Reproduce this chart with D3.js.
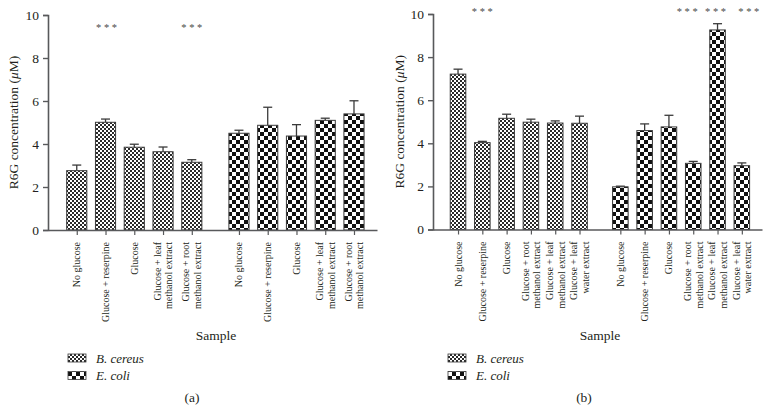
<!DOCTYPE html>
<html><head><meta charset="utf-8">
<script src="https://cdn.jsdelivr.net/npm/d3@7"></script>
<style>
html,body{margin:0;padding:0;background:#fff;}
text{font-family:"Liberation Serif","DejaVu Serif",serif;fill:#231f20;}
</style></head>
<body><svg id="chart" width="770" height="412"></svg>
<script>
// ---- data ----
const seriesNames = ["B. cereus", "E. coli"];
const yTicks = [0, 2, 4, 6, 8, 10];

const categoriesA = ["No glucose", "Glucose + reserpine", "Glucose", "Glucose + leaf\nmethanol extract", "Glucose + root\nmethanol extract"];
const bcereusA = [2.76, 5.01, 3.85, 3.64, 3.15];
const bcereusErrA = [0.26, 0.15, 0.14, 0.22, 0.12];
const ecoliA = [4.50, 4.87, 4.37, 5.10, 5.40];
const ecoliErrA = [0.14, 0.84, 0.53, 0.10, 0.61];
const bcereusSigA = [false, true, false, false, true];
const ecoliSigA = [false, false, false, false, false];

const categoriesB = ["No glucose", "Glucose + reserpine", "Glucose", "Glucose + root\nmethanol extract", "Glucose + leaf\nmethanol extract", "Glucose + leaf\nwater extract"];
const bcereusB = [7.21, 4.03, 5.16, 4.98, 4.94, 4.93];
const bcereusErrB = [0.23, 0.06, 0.19, 0.14, 0.10, 0.33];
const ecoliB = [1.98, 4.59, 4.76, 3.07, 9.26, 2.96];
const ecoliErrB = [0.03, 0.31, 0.54, 0.09, 0.29, 0.13];
const bcereusSigB = [false, true, false, false, false, false];
const ecoliSigB = [false, false, false, true, true, true];

const svg = d3.select("#chart");
const defs = svg.append("defs");

// patterns
function makePattern(id, cell, color) {
  const p = defs.append("pattern").attr("id", id).attr("patternUnits", "userSpaceOnUse")
    .attr("width", cell * 2).attr("height", cell * 2);
  p.append("rect").attr("width", cell * 2).attr("height", cell * 2).attr("fill", "#fff");
  p.append("rect").attr("width", cell).attr("height", cell).attr("fill", color);
  p.append("rect").attr("x", cell).attr("y", cell).attr("width", cell).attr("height", cell).attr("fill", color);
}
makePattern("patBC", 2, "#2a2a2a");
makePattern("patEC", 4, "#111");
const fills = ["url(#patBC)", "url(#patEC)"];

const axisColor = "#58595b";

function panel(cfg) {
  const g = svg.append("g");
  const n = cfg.categories.length;
  const gap = cfg.gap;
  const pos = (grp, i) => i + grp * (n + gap);
  const lastPos = pos(1, n - 1);
  const x = d3.scaleLinear().domain([-cfg.padL, lastPos + cfg.padR]).range([cfg.x0, cfg.x1]);
  const y = d3.scaleLinear().domain([0, 10]).range([cfg.yBottom, cfg.yTop]);

  const groups = [
    { vals: cfg.bc, errs: cfg.bcErr, sig: cfg.bcSig },
    { vals: cfg.ec, errs: cfg.ecErr, sig: cfg.ecSig }
  ];
  const unit = x(1) - x(0);
  const bw = unit * cfg.barFrac;

  groups.forEach((grp, gi) => {
    const data = grp.vals.map((v, i) => ({ v, e: grp.errs[i], s: grp.sig[i], c: x(pos(gi, i)), dx: cfg.starDx[gi][i] }));
    // error bars
    g.selectAll(null).data(data).enter().append("line")
      .attr("x1", d => d.c).attr("x2", d => d.c)
      .attr("y1", d => y(d.v)).attr("y2", d => y(d.v + d.e))
      .attr("stroke", "#3a3a3a").attr("stroke-width", 1.3);
    g.selectAll(null).data(data).enter().append("line")
      .attr("x1", d => d.c - 4.5).attr("x2", d => d.c + 4.5)
      .attr("y1", d => y(d.v + d.e)).attr("y2", d => y(d.v + d.e))
      .attr("stroke", "#3a3a3a").attr("stroke-width", 1.3);
    // bars
    g.selectAll(null).data(data).enter().append("rect")
      .attr("x", d => d.c - bw / 2).attr("width", bw)
      .attr("y", d => y(d.v)).attr("height", d => y(0) - y(d.v))
      .attr("fill", fills[gi]).attr("stroke", "#3a3a3a").attr("stroke-width", 1);
    // significance
    g.selectAll(null).data(data.filter(d => d.s)).enter().append("text")
      .attr("x", d => d.c + d.dx + 1.3).attr("y", cfg.starY)
      .attr("text-anchor", "middle").attr("font-size", 10.5).attr("letter-spacing", 2.6)
      .style("fill", "#4a4a4a").text("***");
    // tick labels
    data.forEach((d, i) => {
      const lines = cfg.categories[i].split("\n");
      const t = g.append("text")
        .attr("transform", `translate(${d.c},${cfg.yBottom + 12}) rotate(-90)`)
        .attr("text-anchor", "end").attr("font-size", 10);
      lines.forEach((ln, li) => {
        t.append("tspan").attr("x", 0)
          .attr("dy", li === 0 ? (0.35 - (lines.length - 1) * 0.58) + "em" : "1.16em")
          .text(ln);
      });
    });
  });

  // axes
  const yAxis = d3.axisLeft(y).tickValues(yTicks).tickSize(5).tickPadding(4);
  const ya = g.append("g").attr("transform", `translate(${cfg.x0},0)`).call(yAxis);
  ya.select(".domain").attr("stroke", axisColor).attr("stroke-width", 1.6);
  ya.selectAll(".tick line").attr("stroke", axisColor).attr("stroke-width", 1.4);
  ya.selectAll(".tick text").attr("font-size", 13.5).style("fill", "#231f20");

  const allPos = [];
  for (let gi = 0; gi < 2; gi++) for (let i = 0; i < n; i++) allPos.push(pos(gi, i));
  const xAxis = d3.axisBottom(x).tickValues(allPos).tickSize(5).tickFormat("").tickSizeOuter(0);
  const xa = g.append("g").attr("transform", `translate(0,${cfg.yBottom})`).call(xAxis);
  xa.select(".domain").attr("stroke", axisColor).attr("stroke-width", 1.6);
  xa.selectAll(".tick line").attr("stroke", axisColor).attr("stroke-width", 1.2);

  // y title
  const yt = g.append("text")
    .attr("transform", `translate(${cfg.yTitleX},${(cfg.yTop + cfg.yBottom) / 2}) rotate(-90)`)
    .attr("text-anchor", "middle").attr("font-size", 13.5);
  yt.append("tspan").text("R6G concentration (");
  yt.append("tspan").attr("font-style", "italic").text("\u03bc");
  yt.append("tspan").text("M)");

  // x title
  g.append("text").attr("x", cfg.sampleX).attr("y", 340).attr("text-anchor", "middle")
    .attr("font-size", 13.5).text("Sample");

  // legend
  seriesNames.forEach((s, i) => {
    const ly = 358 + i * 17.5;
    g.append("rect").attr("x", cfg.legX).attr("y", ly - 4).attr("width", 18).attr("height", 8)
      .attr("fill", fills[i]).attr("stroke", "#3a3a3a").attr("stroke-width", 0.8);
    g.append("text").attr("x", cfg.legX + 28).attr("y", ly + 4.5).attr("font-size", 13)
      .attr("font-style", "italic").text(s);
  });

  g.append("text").attr("x", cfg.labelX).attr("y", 402).attr("text-anchor", "middle")
    .attr("font-size", 13.5).text(cfg.label);
}

panel({
  categories: categoriesA, bc: bcereusA, bcErr: bcereusErrA, ec: ecoliA, ecErr: ecoliErrA,
  bcSig: bcereusSigA, ecSig: ecoliSigA,
  starDx: [[0, 1, 0, 0, 0], [0, 0, 0, 0, 0]],
  gap: 0.64, padL: 1.0, padR: 0.8, x0: 48, x1: 377, yBottom: 230, yTop: 15,
  barFrac: 0.7, starY: 31, yTitleX: 18, sampleX: 216, legX: 68, labelX: 192, label: "(a)"
});
panel({
  categories: categoriesB, bc: bcereusB, bcErr: bcereusErrB, ec: ecoliB, ecErr: ecoliErrB,
  bcSig: bcereusSigB, ecSig: ecoliSigB,
  starDx: [[0, 0, 0, 0, 0, 0], [0, 0, 0, -6, -2, 7]],
  gap: 0.68, padL: 1.03, padR: 0.83, x0: 433, x1: 762, yBottom: 229.5, yTop: 14,
  barFrac: 0.64, starY: 15, yTitleX: 404, sampleX: 600, legX: 448, labelX: 584, label: "(b)"
});
</script></body></html>
